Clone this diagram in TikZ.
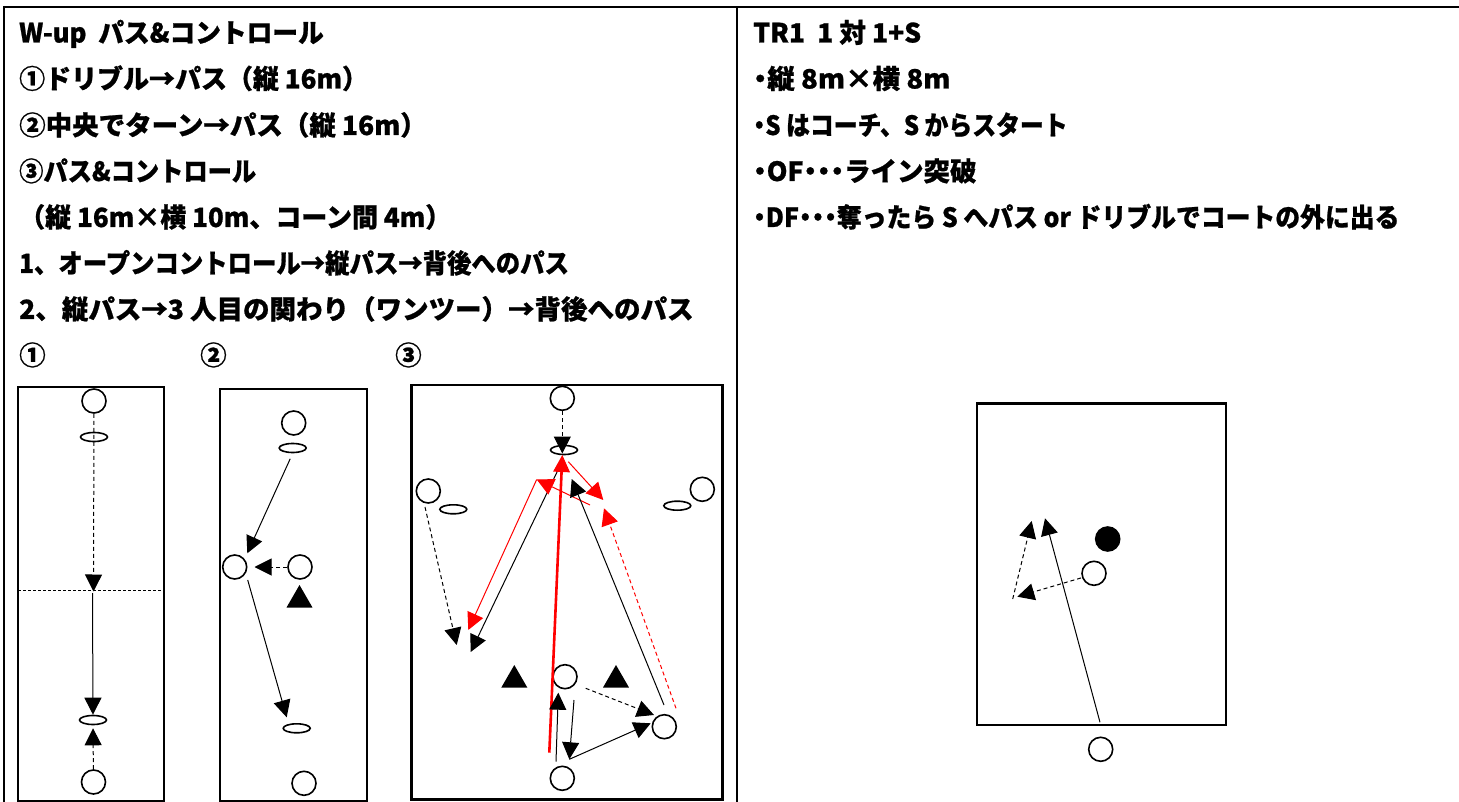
\documentclass[tikz,border=0pt]{standalone}
\usepackage{graphicx}
\usepackage{fontspec}
\setmainfont{Noto Sans CJK JP}[BoldFeatures={FakeBold=0.8}]
\usetikzlibrary{arrows.meta,shapes.geometric}
\newcommand\ndot{\makebox[13.5pt]{・}}
\newcommand\hs[2]{\scalebox{#1}[1]{#2}}
\tikzset{
  txt/.style={anchor=base west, inner sep=0pt, font=\bfseries\fontsize{26.5}{30}\selectfont},
  frameline/.style={line width=2.4pt},
  field/.style={draw, line width=2.2pt},
  player/.style={circle, draw, line width=1.6pt, fill=white, minimum size=24pt, inner sep=0pt},
  dplayer/.style={circle, draw, line width=1.6pt, fill=black, minimum size=24pt, inner sep=0pt},
  cone/.style={ellipse, draw, line width=1.6pt, minimum width=27pt, minimum height=9pt, inner sep=0pt},
  tri/.style={regular polygon, regular polygon sides=3, fill=black, minimum size=30pt, inner sep=0pt},
  tip/.style={-{Triangle[length=17pt,width=17pt]}},
  pass/.style={tip, line width=1pt},
  run/.style={pass, dash pattern=on 4pt off 3pt},
  rpass/.style={line width=1pt, draw=red, -{Triangle[length=17pt,width=17pt,fill=red]}, red},
  rrun/.style={rpass, dash pattern=on 4pt off 3pt},
}
\begin{document}
\begin{tikzpicture}[x=1pt,y=-1pt]
\useasboundingbox (0,0) rectangle (1459,802);
% outer table lines
\draw[frameline] (4,7) -- (1459,7);
\draw[frameline] (4,6) -- (4,802);
\draw[frameline] (737,7) -- (737,802);

% left text
\node[txt] (l1) at (19,42.5) {\hs{0.97}{W-up\ \ パス\&コントロール}};
\node[txt] (l2) at (19,88.5) {\hs{0.98}{①ドリブル→パス（縦 16m）}};
\node[txt] (l3) at (19,135) {②中央でターン→パス（縦 16m）};
\node[txt] (l4) at (19,181) {\hs{0.915}{③パス\&コントロール}};
\node[txt] (l5) at (19,227) {\hs{0.98}{（縦 16m×横 10m、コーン間 4m）}};
\node[txt] (l6) at (19,273) {\hs{0.92}{1、オープンコントロール→縦パス→背後へのパス}};
\node[txt] (l7) at (19,319) {2、縦パス→3 人目の関わり（ワンツー）→背後へのパス};
\node[txt] (n1) at (19,365) {①};
\node[txt] (n2) at (200,365) {②};
\node[txt] (n3) at (395,365) {③};

% right text
\node[txt] (r1) at (753,42.5) {TR1\ \ 1 対 1+S};
\node[txt] (r2) at (753,88.5) {\hs{1.04}{\ndot 縦 8m×横 8m}};
\node[txt] (r3) at (753,135) {\hs{0.9}{\ndot S はコーチ、S からスタート}};
\node[txt] (r4) at (753,181) {\ndot OF\ndot\ndot\ndot ライン突破};
\node[txt] (r5) at (753,227) {\hs{0.937}{\ndot DF\ndot\ndot\ndot 奪ったら S へパス or ドリブルでコートの外に出る}};

% ---------- diagram 1 ----------
\draw[field] (18,387) rectangle (164,801);
\draw[line width=0.8pt, dash pattern=on 3pt off 2pt] (18,590) -- (164,590);
\node[player] (a1) at (94,401) {};
\node[cone] (c1) at (94,437) {};
\node[cone] (c2) at (93,720) {};
\node[player] (a2) at (93.5,782) {};
\coordinate (m1) at (93.5,591.5);
\coordinate (m1b) at (92.5,593);
\draw[run] (a1) -- (m1);
\draw[pass] (m1b) -- (c2.north);
\draw[run, shorten >=3pt] (a2) -- (c2.south);

% ---------- diagram 2 ----------
\draw[field] (220,389) rectangle (367,801);
\node[player] (b1) at (293.7,423) {};
\node[cone] (e1) at (292.7,448) {};
\node[player] (b2) at (234.7,567) {};
\node[player] (b3) at (300,567) {};
\node[tri] (t1) at (299.5,600) {};
\node[cone] (e2) at (296.7,728.3) {};
\node[player] (b4) at (304,783.3) {};
\coordinate (b2in) at (247.3,553.3);
\coordinate (b2out) at (247.7,580);
\coordinate (e2in) at (286.7,717.3);
\draw[pass, shorten <=6pt] (e1.south) -- (b2in);
\draw[run, shorten >=7pt] (b3) -- (b2);
\draw[pass] (b2out) -- (e2in);

% ---------- diagram 3 ----------
\draw[field] (411.5,385) rectangle (722.5,799.5);
\node[player] (p1) at (562.3,398.3) {};
\node[cone] (k1) at (564,450) {};
\node[player] (p2) at (428.3,491) {};
\node[cone] (k2) at (453.3,509.3) {};
\node[player] (p3) at (702.3,489.3) {};
\node[cone] (k3) at (677.3,505.7) {};
\node[tri] (T1) at (514.3,680) {};
\node[tri] (T2) at (616,680) {};
\node[player] (p4) at (565,676.7) {};
\node[player] (p5) at (562.3,778.3) {};
\node[player] (p6) at (664.3,726.7) {};
\coordinate (k1tip) at (562.3,453.5);
\coordinate (q1s) at (425,507);
\coordinate (q1) at (456.7,645);
\coordinate (k1b) at (559.3,467.3);
\coordinate (q2) at (470.7,652);
\coordinate (r1) at (536.7,479.5);
\coordinate (r2) at (590,505);
\coordinate (q3) at (468.3,630);
\coordinate (red0) at (549.3,752.7);
\coordinate (red1) at (562.3,455);
\coordinate (rs) at (568.3,461.7);
\coordinate (rt) at (603.3,500);
\coordinate (rds) at (676,708.3);
\coordinate (rdt) at (604,508.3);
\coordinate (bs) at (664,705);
\coordinate (bt) at (571.7,479);
\coordinate (u1s) at (556,761.7);
\coordinate (u1t) at (558.3,692.7);
\coordinate (u2s) at (574,700);
\coordinate (u2t) at (569.3,759.3);
\coordinate (u3t) at (650.7,723.3);
\coordinate (u4s) at (585.7,688.3);
\coordinate (u4t) at (654,715);
\draw[run] (p1) -- (k1tip);
\draw[run] (q1s) -- (q1);
\draw[pass] (k1b) -- (q2);
\draw[rpass] (r2) -- (r1);
\draw[rpass] (r1) -- (q3);
\draw[rpass, line width=2.6pt, -{Triangle[length=17pt,width=17pt,fill=red,line width=0pt]}] (red0) -- (red1);
\draw[rpass] (rs) -- (rt);
\draw[rrun] (rds) -- (rdt);
\draw[pass] (bs) -- (bt);
\draw[pass] (u1s) -- (u1t);
\draw[pass] (u2s) -- (u2t);
\draw[pass] (u2t) -- (u3t);
\draw[run] (u4s) -- (u4t);

% ---------- TR1 ----------
\draw[field] (977,403.5) rectangle (1225.7,725);
\node[player] (s1) at (1100.7,749.3) {};
\node[dplayer] (d1) at (1107.7,539) {};
\node[player] (o1) at (1094,573.3) {};
\coordinate (v1s) at (1100,722.3);
\coordinate (v1t) at (1045,518.3);
\coordinate (v2t) at (1017.3,596.7);
\coordinate (v3s) at (1012.7,599);
\coordinate (v3t) at (1031.7,521);
\draw[pass] (v1s) -- (v1t);
\draw[run, shorten <=1pt] (o1.200) -- (v2t);
\draw[run] (v3s) -- (v3t);
\end{tikzpicture}
\end{document}
